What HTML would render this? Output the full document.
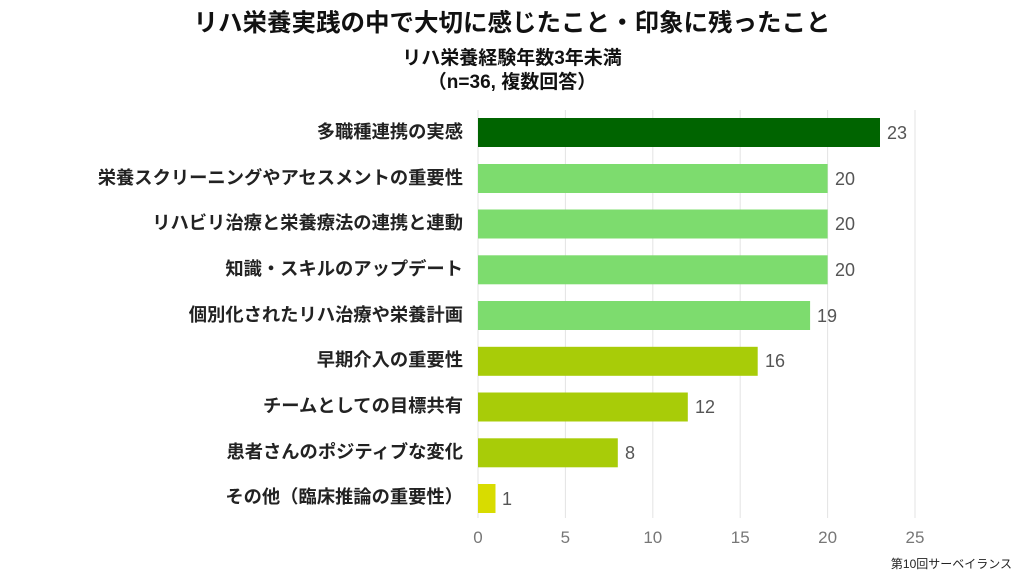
<!DOCTYPE html>
<html><head><meta charset="utf-8"><style>
body{margin:0;width:1024px;height:576px;background:#fff;overflow:hidden;font-family:"Liberation Sans","Noto Sans CJK JP",sans-serif;}
</style></head><body>
<svg width="1024" height="576" xmlns="http://www.w3.org/2000/svg" font-family="Liberation Sans, Noto Sans CJK JP, sans-serif">
<text x="512" y="31" text-anchor="middle" font-size="24.5" font-weight="bold" fill="#111">リハ栄養実践の中で大切に感じたこと・印象に残ったこと</text>
<text x="512" y="64" text-anchor="middle" font-size="19" font-weight="bold" fill="#111">リハ栄養経験年数3年未満</text>
<text x="512" y="88" text-anchor="middle" font-size="19" font-weight="bold" fill="#111">（n=36, 複数回答）</text>
<g stroke="#e3e3e3" stroke-width="1">
<line x1="478" y1="110" x2="478" y2="518"/><line x1="565.4" y1="110" x2="565.4" y2="518"/><line x1="652.8" y1="110" x2="652.8" y2="518"/><line x1="740.2" y1="110" x2="740.2" y2="518"/><line x1="827.6" y1="110" x2="827.6" y2="518"/><line x1="915" y1="110" x2="915" y2="518"/>
</g>
<g font-size="17" fill="#777" text-anchor="middle">
<text x="478" y="543">0</text><text x="565.4" y="543">5</text><text x="652.8" y="543">10</text><text x="740.2" y="543">15</text><text x="827.6" y="543">20</text><text x="915" y="543">25</text>
</g>
<g>
<rect x="478" y="118" width="402" height="29" fill="#006400"/>
<rect x="478" y="164" width="349.6" height="29" fill="#7ddc6e"/>
<rect x="478" y="209.5" width="349.6" height="29" fill="#7ddc6e"/>
<rect x="478" y="255.3" width="349.6" height="29" fill="#7ddc6e"/>
<rect x="478" y="301" width="332.1" height="29" fill="#7ddc6e"/>
<rect x="478" y="346.8" width="279.7" height="29" fill="#a8cc08"/>
<rect x="478" y="392.5" width="209.8" height="29" fill="#a8cc08"/>
<rect x="478" y="438.3" width="139.8" height="29" fill="#a8cc08"/>
<rect x="478" y="484" width="17.5" height="29" fill="#d8dc00"/>
</g>
<g font-size="18" fill="#555">
<text x="887" y="139">23</text><text x="835" y="185">20</text><text x="835" y="230">20</text><text x="835" y="276">20</text><text x="817" y="322">19</text><text x="765" y="367">16</text><text x="695" y="413">12</text><text x="625" y="459">8</text><text x="502" y="505">1</text>
</g>
<g font-size="18.3" font-weight="bold" fill="#222" text-anchor="end">
<text x="463" y="138">多職種連携の実感</text>
<text x="463" y="184">栄養スクリーニングやアセスメントの重要性</text>
<text x="463" y="229">リハビリ治療と栄養療法の連携と連動</text>
<text x="463" y="275">知識・スキルのアップデート</text>
<text x="463" y="321">個別化されたリハ治療や栄養計画</text>
<text x="463" y="366">早期介入の重要性</text>
<text x="463" y="412">チームとしての目標共有</text>
<text x="463" y="458">患者さんのポジティブな変化</text>
<text x="463" y="503">その他（臨床推論の重要性）</text>
</g>
<text x="1012" y="568" text-anchor="end" font-size="12" fill="#222">第10回サーベイランス</text>
</svg>
</body></html>
